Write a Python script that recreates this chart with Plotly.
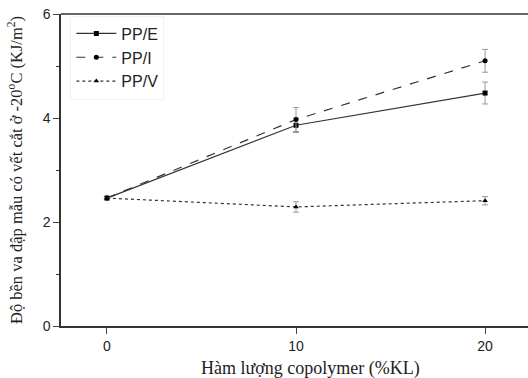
import plotly.graph_objects as go

x_vals = [0, 10, 20]
pp_e = [2.46, 3.86, 4.48]
pp_e_err = [0.0, 0.14, 0.21]
pp_i = [2.46, 3.97, 5.10]
pp_i_err = [0.0, 0.23, 0.22]
pp_v = [2.46, 2.29, 2.41]
pp_v_err = [0.0, 0.10, 0.08]

series = [
    ("PP/E", pp_e, pp_e_err, "solid", "square"),
    ("PP/I", pp_i, pp_i_err, "dash", "circle"),
    ("PP/V", pp_v, pp_v_err, "dot", "triangle-up"),
]

fig = go.Figure()
for name, ys, errs, dash, sym in series:
    fig.add_trace(go.Scatter(
        x=x_vals, y=ys, name=name, mode="lines+markers",
        line=dict(color="#333333", width=1.2, dash=dash),
        marker=dict(symbol=sym, size=5, color="black"),
        error_y=dict(type="data", array=errs, visible=True, color="#999999",
                     thickness=1, width=3),
    ))

fig.update_layout(
    width=528, height=378,
    margin=dict(l=61, r=0, t=14, b=52),
    paper_bgcolor="white", plot_bgcolor="white",
    showlegend=True,
    legend=dict(x=0.02, y=0.995, xanchor="left", yanchor="top",
                font=dict(family="Liberation Sans, Arial", size=16, color="#222"),
                bgcolor="rgba(255,255,255,0)", bordercolor="#f2f2f2", borderwidth=1,
                tracegroupgap=0, itemwidth=40),
    font=dict(family="Liberation Sans, Arial", color="#222"),
    shapes=[dict(type="line", xref="paper", yref="paper", x0=0, x1=1, y0=1, y1=1,
                 line=dict(color="#333", width=1.5))],
    annotations=[
        dict(text="Hàm lượng copolymer (%KL)", xref="paper", yref="paper",
             x=0.535, y=0, yshift=-42, xanchor="center", yanchor="middle",
             showarrow=False,
             font=dict(family="Liberation Serif, Times New Roman", size=18, color="#222")),
        dict(text="Độ bền va đập mẫu có vết cắt ở -20<sup>o</sup>C (KJ/m<sup>2</sup>)",
             xref="paper", yref="paper", x=0, xshift=-46, y=0.5,
             xanchor="center", yanchor="middle", textangle=-90, showarrow=False,
             font=dict(family="Liberation Serif, Times New Roman", size=16.5, color="#222")),
    ],
)
fig.update_xaxes(
    range=[-2.43, 22.27], tickvals=[0, 10, 20], ticks="outside", ticklen=6,
    showline=True, linecolor="#333", linewidth=1.5, mirror=False, showgrid=False,
    zeroline=False, tickfont=dict(size=14),
)
fig.update_yaxes(
    range=[0, 6], tickvals=[0, 2, 4, 6], ticks="outside", ticklen=6,
    minor=dict(tickvals=[1, 3, 5], ticks="outside", ticklen=3, tickcolor="#333"),
    showline=True, linecolor="#333", linewidth=1.5, mirror=False, showgrid=False,
    zeroline=False, tickfont=dict(size=14),
)

fig.write_html("out.html")
